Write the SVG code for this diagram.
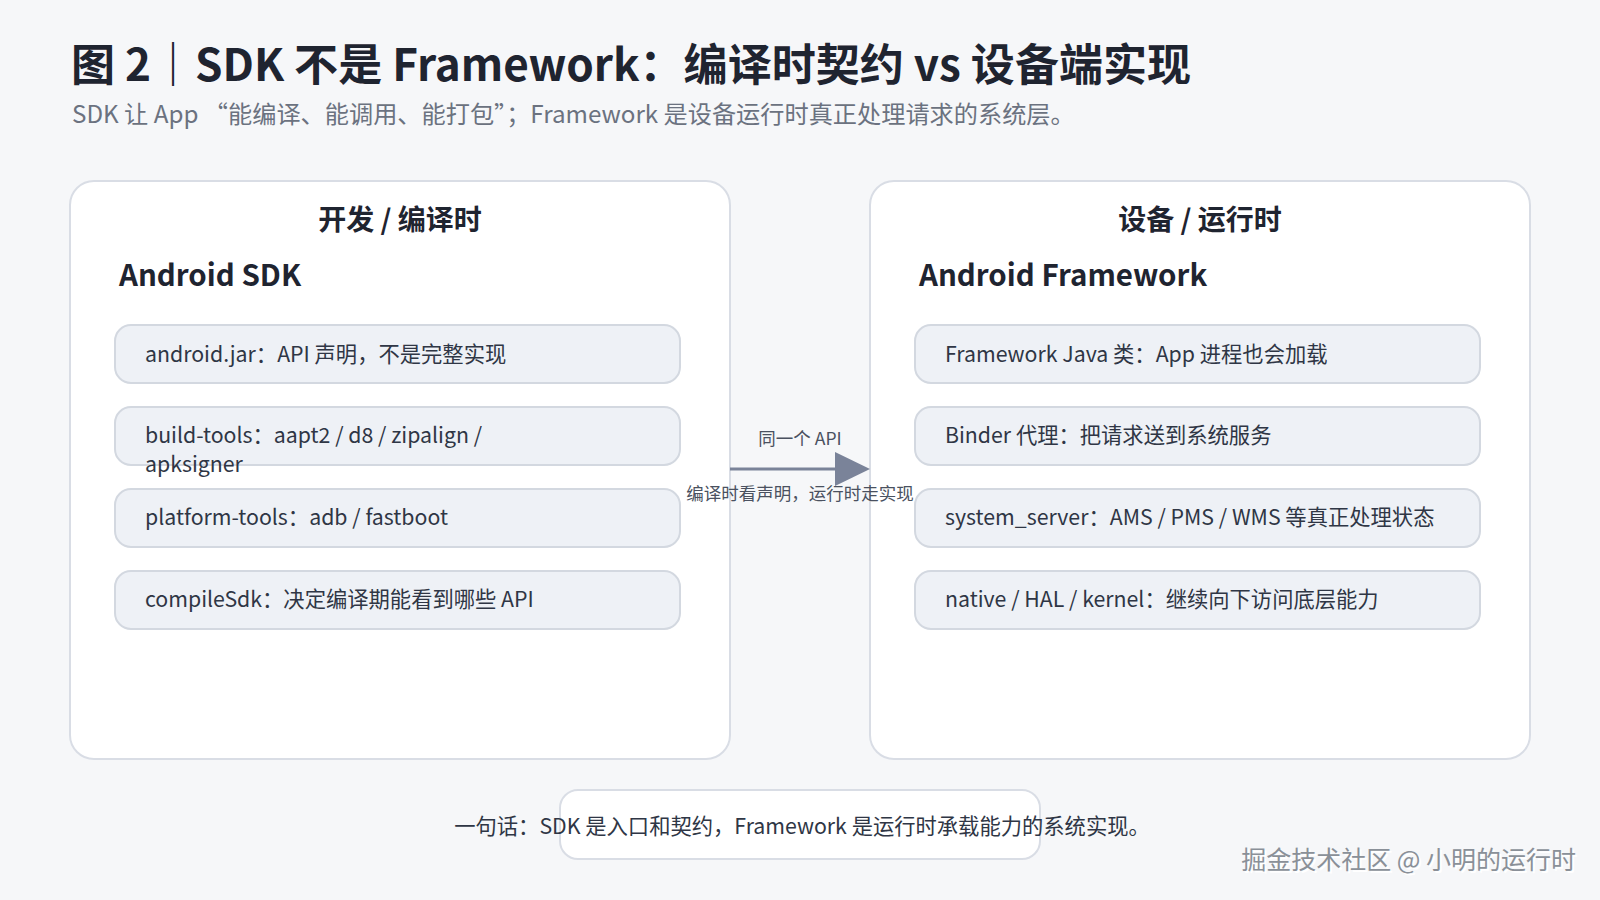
<svg xmlns="http://www.w3.org/2000/svg" width="1600" height="900" viewBox="0 0 1600 900">
<defs>
<style>
text{font-family:"Noto Sans CJK SC","Noto Sans",sans-serif;}
.panel{fill:#fff;stroke:#d9dde5;stroke-width:2}
.item{fill:#eef1f6;stroke:#d3d8e0;stroke-width:2}
.it{font-size:21.3px;fill:#2f3645}
.hd{font-size:28px;font-weight:bold;fill:#1f2430;text-anchor:middle}
.sub{font-size:29.5px;font-weight:bold;fill:#1f2430}
.lbl{font-size:17.5px;fill:#4a5160;text-anchor:middle}
</style>
</defs>
<rect width="1600" height="900" fill="#f6f7f9"/>
<text x="71" y="81" font-size="44" font-weight="bold" fill="#1f2430" textLength="1120" lengthAdjust="spacingAndGlyphs">图 2｜SDK 不是 Framework：编译时契约 vs 设备端实现</text>
<text x="72" y="123" font-size="24.2" fill="#6b7280">SDK 让 App “能编译、能调用、能打包”；Framework 是设备运行时真正处理请求的系统层。</text>
<g id="sdk">
<rect class="panel" x="70" y="181" width="660" height="578" rx="24"/>
<text class="hd" x="400" y="230">开发 / 编译时</text>
<text class="sub" x="119" y="286">Android SDK</text>
<rect class="item" x="115" y="325" width="565" height="58" rx="16"/>
<text class="it" x="145" y="362">android.jar：API 声明，不是完整实现</text>
<rect class="item" x="115" y="407" width="565" height="58" rx="16"/>
<text class="it" x="145" y="443">build-tools：aapt2 / d8 / zipalign /</text>
<text class="it" x="145" y="472">apksigner</text>
<rect class="item" x="115" y="489" width="565" height="58" rx="16"/>
<text class="it" x="145" y="525">platform-tools：adb / fastboot</text>
<rect class="item" x="115" y="571" width="565" height="58" rx="16"/>
<text class="it" x="145" y="607">compileSdk：决定编译期能看到哪些 API</text>
</g>
<g id="framework">
<rect class="panel" x="870" y="181" width="660" height="578" rx="24"/>
<text class="hd" x="1200" y="230">设备 / 运行时</text>
<text class="sub" x="919" y="286">Android Framework</text>
<rect class="item" x="915" y="325" width="565" height="58" rx="16"/>
<text class="it" x="945" y="362">Framework Java 类：App 进程也会加载</text>
<rect class="item" x="915" y="407" width="565" height="58" rx="16"/>
<text class="it" x="945" y="443">Binder 代理：把请求送到系统服务</text>
<rect class="item" x="915" y="489" width="565" height="58" rx="16"/>
<text class="it" x="945" y="525">system_server：AMS / PMS / WMS 等真正处理状态</text>
<rect class="item" x="915" y="571" width="565" height="58" rx="16"/>
<text class="it" x="945" y="607">native / HAL / kernel：继续向下访问底层能力</text>
</g>
<g id="connectors">
<line x1="730" y1="469" x2="840" y2="469" stroke="#7a8399" stroke-width="3"/>
<path d="M835,452 L870,469 L835,486 z" fill="#7a8399"/>
<text class="lbl" x="800" y="445">同一个 API</text>
<text class="lbl" x="800" y="500">编译时看声明，运行时走实现</text>
</g>
<g id="summary">
<rect x="560" y="790" width="480" height="69" rx="18" fill="#fff" stroke="#d9dde5" stroke-width="2"/>
<text x="802" y="834" font-size="21.3" fill="#2f3645" text-anchor="middle">一句话：SDK 是入口和契约，Framework 是运行时承载能力的系统实现。</text>
</g>
<text x="1578" y="871" font-size="25" fill="#ffffff" text-anchor="end">掘金技术社区 @ 小明的运行时</text>
<text x="1576" y="869" font-size="25" fill="#8a9098" text-anchor="end">掘金技术社区 @ 小明的运行时</text>
</svg>
